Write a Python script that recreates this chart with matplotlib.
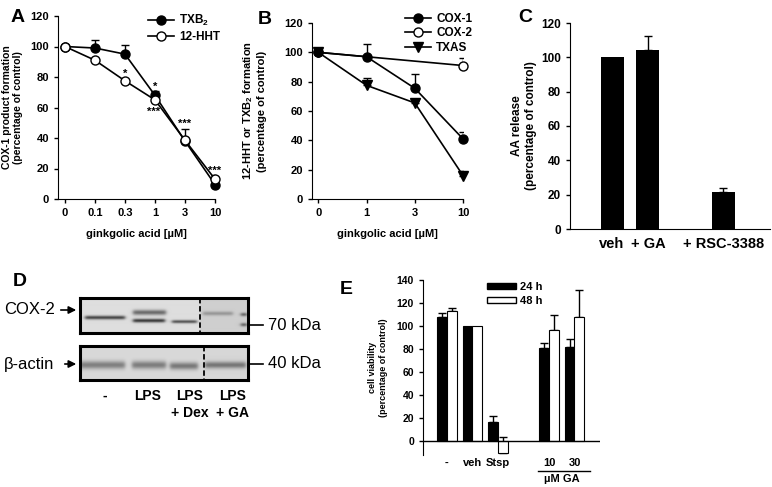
import matplotlib
matplotlib.use("Agg")
import matplotlib.pyplot as plt
import numpy as np
from matplotlib.lines import Line2D
from matplotlib.patches import Patch
import matplotlib.transforms as mtransforms

plt.rcParams['font.family'] = ['Liberation Sans', 'DejaVu Sans']
plt.rcParams['font.weight'] = 'bold'
plt.rcParams['mathtext.fontset'] = 'custom'
plt.rcParams['mathtext.bf'] = 'Liberation Sans:bold'
plt.rcParams['mathtext.rm'] = 'Liberation Sans:bold'
plt.rcParams['mathtext.default'] = 'bf'

W, H = 772, 487

# ---- panel A: COX-1 products vs ginkgolic acid
conc_a = ["0", "0.1", "0.3", "1", "3", "10"]
txb2 = [100, 99, 95, 68, 38, 9.5]
txb2_err = [0, 5, 6, 3, 8, 0]
hht = [100, 91, 77.5, 65, 38.5, 13]
hht_err = [0, 0, 0, 0, 0, 3]
stars_a = [(2, 82, "*"), (3, 73.5, "*"), (2.97, 57, "***"), (4, 49.5, "***"), (5, 18.5, "***")]

# ---- panel B
conc_b = ["0", "1", "3", "10"]
cox1 = [100, 97, 75.5, 41]
cox1_err = [0, 9, 10, 5]
cox2 = [100, np.nan, np.nan, 91]
cox2_err = [0, 0, 0, 5]
txas = [100, 77.5, 65.5, 16]
txas_err = [0, 5, 1, 3]

# ---- panel C
c_labels = ["veh", "+ GA", "+ RSC-3388"]
aa_release = [100, 104, 21.5]
aa_err = [0, 8.5, 2.5]

# ---- panel E
e_labels = ["-", "veh", "Stsp", "10", "30"]
via_24 = [108, 100, 17, 81, 82]
err_24 = [3, 0, 4.5, 4.5, 7]
via_48 = [113.5, 100, -10.5, 97, 108]
err_48 = [2, 0, 14.5, 13, 23.5]

# ---- panel D (western blot)
lane_labels = ["-", "LPS", "LPS\n+ Dex", "LPS\n+ GA"]
# band: (x start, x end, y centre, sigma, darkness) in box pixels
cox2_bands = [(5, 45, 20, 1.3, 0.6), (53, 85, 23, 1.3, 0.65), (53, 86, 15, 1.8, 0.45),
              (92, 117, 24, 1.1, 0.55), (123, 153, 16, 1.4, 0.22),
              (161, 167, 17, 1.2, 0.45), (161, 167, 27, 1.2, 0.45)]
actin_bands = [(0, 45, 19, 2.8, 0.35), (52, 86, 19, 2.8, 0.36),
               (90, 118, 20, 2.6, 0.38), (125, 166, 19, 2.4, 0.38)]


def px_axes(fig, x0, y0, x1, y1):
    return fig.add_axes([x0 / W, 1 - y1 / H, (x1 - x0) / W, (y1 - y0) / H])


def style(ax, fs=8):
    for s in ['top', 'right']:
        ax.spines[s].set_visible(False)
    ax.tick_params(direction='out', length=3, width=1, labelsize=fs)
    for lab in ax.get_xticklabels() + ax.get_yticklabels():
        lab.set_fontweight('bold')


def up_err(ax, x, y, e):
    # upper error bars only, skipping zero errors
    x, y, e = (np.asarray(v, dtype=float) for v in (x, y, e))
    m = e > 0
    ax.errorbar(x[m], y[m], yerr=[np.zeros(m.sum()), e[m]], fmt='none', ecolor='black',
                elinewidth=1, capsize=3, capthick=1, zorder=2)


fig = plt.figure(figsize=(W / 100, H / 100), dpi=100)

# ================= A
axA = px_axes(fig, 58, 16, 215, 199)
xa = np.arange(len(conc_a))
up_err(axA, xa, txb2, txb2_err)
up_err(axA, xa, hht, hht_err)
axA.plot(xa, txb2, '-o', color='black', mfc='black', mec='black', ms=6.5, lw=1.2, zorder=3, clip_on=False)
axA.plot(xa, hht, '-o', color='black', mfc='white', mec='black', ms=6.5, lw=1.2, zorder=4, clip_on=False)
for i, yv, t in stars_a:
    axA.text(i, yv, t, ha='center', va='center', fontsize=8, zorder=5)
axA.set_xlim(-0.23, 5.0)
axA.set_ylim(0, 120)
axA.set_yticks(range(0, 121, 20))
axA.set_xticks(xa)
axA.set_xticklabels(conc_a)
style(axA)
axA.set_xlabel("ginkgolic acid [µM]", fontsize=8, fontweight='bold', labelpad=8)
axA.set_ylabel("COX-1 product formation\n(percentage of control)", fontsize=7.5, fontweight='bold')
axA.yaxis.set_label_coords(-0.22, 0.5)
hA = [Line2D([], [], color='black', marker='o', mfc='black', ms=6.5, lw=1.2),
      Line2D([], [], color='black', marker='o', mfc='white', ms=6.5, lw=1.2)]
axA.legend(hA, ["TXB$_2$", "12-HHT"], loc='upper right', bbox_to_anchor=(1.07, 1.05),
           frameon=False, handlelength=2.2, handletextpad=0.4,
           labelspacing=0.25, borderpad=0, prop={'weight': 'bold', 'size': 8.5})

# ================= B
axB = px_axes(fig, 312, 23, 463, 199)
xb = np.arange(len(conc_b))
cox2_arr = np.asarray(cox2, dtype=float)
ok = np.isfinite(cox2_arr)
up_err(axB, xb, cox1, cox1_err)
up_err(axB, xb[ok], cox2_arr[ok], np.asarray(cox2_err)[ok])
up_err(axB, xb, txas, txas_err)
axB.plot(xb[ok], cox2_arr[ok], '-o', color='black', mfc='white', ms=6.5, lw=1.2, zorder=3, clip_on=False)
axB.plot(xb, cox1, '-o', color='black', mfc='black', ms=6.5, lw=1.2, zorder=4, clip_on=False)
axB.plot(xb, txas, '-v', color='black', mfc='black', ms=6.5, lw=1.2, zorder=4, clip_on=False)
axB.set_xlim(-0.13, 3.0)
axB.set_ylim(0, 120)
axB.set_yticks(range(0, 121, 20))
axB.set_xticks(xb)
axB.set_xticklabels(conc_b)
style(axB)
axB.set_xlabel("ginkgolic acid [µM]", fontsize=8, fontweight='bold', labelpad=8)
axB.set_ylabel("12-HHT or TXB$_2$ formation\n(percentage of control)", fontsize=8, fontweight='bold')
axB.yaxis.set_label_coords(-0.30, 0.5)
hB = [Line2D([], [], color='black', marker='o', mfc='black', ms=6.5, lw=1.2),
      Line2D([], [], color='black', marker='o', mfc='white', ms=6.5, lw=1.2),
      Line2D([], [], color='black', marker='v', mfc='black', ms=6.5, lw=1.2)]
axB.legend(hB, ["COX-1", "COX-2", "TXAS"], loc='upper right', bbox_to_anchor=(1.10, 1.09),
           frameon=False, handlelength=2.2, handletextpad=0.4, labelspacing=0.2,
           borderpad=0, prop={'weight': 'bold', 'size': 8.5})

# ================= C
axC = px_axes(fig, 570, 23, 770, 229)
xc = np.array([0, 1, 3.1])
axC.bar(xc, aa_release, width=0.64, color='black', zorder=3)
up_err(axC, xc, aa_release, aa_err)
axC.set_xlim(-1.17, 4.4)
axC.set_ylim(0, 120)
axC.set_yticks(range(0, 121, 20))
axC.set_xticks(xc)
axC.set_xticklabels(c_labels)
style(axC, fs=8.5)
axC.tick_params(axis='x', length=0, labelsize=10.5, pad=6)
axC.set_ylabel("AA release\n(percentage of control)", fontsize=8.5, fontweight='bold')
axC.yaxis.set_label_coords(-0.165, 0.5)

# ================= E
axE = px_axes(fig, 423, 280, 600, 455)
xe = np.array([0, 1, 2, 4, 5])
bw = 0.39
axE.bar(xe - bw / 2, via_24, width=bw, color='black', edgecolor='black', lw=0.8, zorder=3)
axE.bar(xe + bw / 2, via_48, width=bw, color='white', edgecolor='black', lw=0.8, zorder=3)
up_err(axE, xe - bw / 2, via_24, err_24)
up_err(axE, xe + bw / 2, via_48, err_48)
axE.axhline(0, color='black', lw=1, zorder=4)
axE.set_xlim(-0.94, 6.0)
axE.set_ylim(-12, 140)
axE.set_yticks(range(0, 141, 20))
axE.set_xticks(xe)
axE.set_xticklabels(e_labels)
style(axE, fs=7.5)
axE.spines['bottom'].set_visible(False)
axE.tick_params(axis='x', length=0, labelsize=8, pad=2)
axE.set_ylabel("cell viability\n(percentage of control)", fontsize=6.5, fontweight='bold')
axE.yaxis.set_label_coords(-0.20, 0.5)
trE = mtransforms.blended_transform_factory(axE.transData, axE.transAxes)
axE.plot([3.55, 5.6], [-0.09, -0.09], color='black', lw=1, transform=trE, clip_on=False)
axE.text(4.5, -0.11, "µM GA", transform=trE, ha='center', va='top', fontsize=8)
axE.legend(handles=[Patch(fc='black', ec='black'), Patch(fc='white', ec='black')],
           labels=['24 h', '48 h'], loc='upper left', bbox_to_anchor=(0.33, 1.02),
           frameon=False, handlelength=2.6, handleheight=0.55, handletextpad=0.4,
           labelspacing=0.35, borderpad=0, prop={'weight': 'bold', 'size': 8})


# ================= D (blot drawing)
def blot(x0, y0, x1, y1, bands, split, bg_left, bg_right):
    ax = px_axes(fig, x0, y0, x1, y1)
    w, h = x1 - x0, y1 - y0
    xs = np.linspace(0, w, w * 4)
    ys = np.linspace(0, h, h * 4)
    X, Y = np.meshgrid(xs, ys)
    img = np.where(X < split, bg_left, bg_right).astype(float)
    for bx0, bx1, yc, sig, dark in bands:
        edge = 0.5 * (np.tanh((X - bx0) / 2.0) - np.tanh((X - bx1) / 2.0))
        img -= dark * edge * np.exp(-0.5 * ((Y - yc) / sig) ** 2)
    ax.imshow(img, cmap='gray', vmin=0, vmax=1, extent=(0, w, h, 0), aspect='auto',
              interpolation='bilinear')
    ax.plot([split, split], [0, h], color='black', lw=1.3, ls=(0, (3, 1.5)))
    ax.set_xlim(0, w)
    ax.set_ylim(h, 0)
    ax.set_xticks([])
    ax.set_yticks([])
    for s in ax.spines.values():
        s.set_linewidth(2.2)
    return ax


blot(80, 298, 248, 333, cox2_bands, 120, 0.87, 0.81)
blot(80, 346, 248, 380, actin_bands, 124, 0.85, 0.84)

ov = fig.add_axes([0, 0, 1, 1], facecolor='none')
ov.set_xlim(0, W)
ov.set_ylim(H, 0)
ov.axis('off')
for lbl, yy, xt in [("COX-2", 310, 58), ("β-actin", 364, 62)]:
    ov.text(4, yy, lbl, ha='left', va='center', fontsize=12, fontweight='normal')
    ov.annotate('', xy=(79, yy), xytext=(xt, yy),
                arrowprops=dict(arrowstyle='-|>', color='black', lw=1.2, mutation_scale=11))
for lbl, yy in [("70 kDa", 325), ("40 kDa", 364)]:
    ov.plot([250, 263], [yy, yy], color='black', lw=1.2)
    ov.text(268, yy, lbl, ha='left', va='center', fontsize=12, fontweight='normal')
for xx, lbl in zip([105, 148, 190, 233], lane_labels):
    ov.text(xx, 389, lbl, ha='center', va='top', fontsize=10, linespacing=1.3)

for t, xx, yy in [("A", 11, 18), ("B", 258, 20), ("C", 518, 18), ("D", 13, 282), ("E", 340, 290)]:
    ov.text(xx, yy, t, ha='left', va='center', fontsize=14, fontweight='bold')

fig.savefig("out.png", dpi=100)
